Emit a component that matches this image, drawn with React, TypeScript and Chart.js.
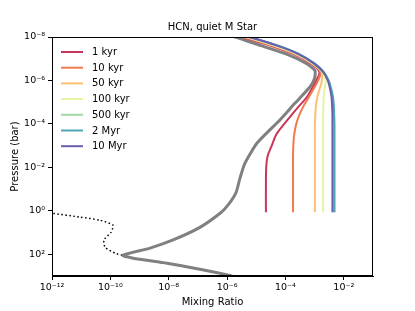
import React, { useEffect, useRef } from 'react';
import { Chart, registerables } from 'chart.js';

Chart.register(...registerables);

const TITLE = 'HCN, quiet M Star';
const X_LABEL = 'Mixing Ratio';
const Y_LABEL = 'Pressure (bar)';

const X_TICKS = [1e-12, 1e-10, 1e-8, 1e-6, 1e-4, 1e-2];
const Y_TICKS = [1e-8, 1e-6, 1e-4, 1e-2, 1e0, 1e2];

const SERIES_LABELS = ['1 kyr', '10 kyr', '50 kyr', '100 kyr', '500 kyr', '2 Myr', '10 Myr'];
const SERIES_COLORS = ['#c9365a', '#f27a4f', '#fdbf72', '#e6f3a0', '#a2d8a5', '#4aa5b6', '#6b5eae'];

// pressure grid (bar) shared by the time-evolving profiles
const PRESSURE_COLORED = [4e-9, 1e-8, 2.5e-8, 6e-8, 1.6e-7, 4e-7, 1e-6, 2.5e-6, 6e-6, 1.6e-5, 4e-5, 1e-4, 3e-4, 1e-3, 3e-3, 1e-2, 1e-1, 1.15];

const MR_1KYR = [3.31e-7, 3.31e-6, 3.02e-5, 1.82e-4, 7.08e-4, 1.45e-3, 1.15e-3, 7.94e-4, 5.37e-4, 2.82e-4, 1.58e-4, 9.12e-5, 4.9e-5, 3.39e-5, 2.45e-5, 2.19e-5, 2.14e-5, 2.14e-5];
const MR_10KYR = [3.63e-7, 3.72e-6, 3.39e-5, 2.0e-4, 7.59e-4, 1.58e-3, 1.32e-3, 9.12e-4, 6.31e-4, 4.07e-4, 2.95e-4, 2.34e-4, 2.0e-4, 1.86e-4, 1.82e-4, 1.82e-4, 1.82e-4, 1.82e-4];
const MR_50KYR = [3.98e-7, 4.17e-6, 3.8e-5, 2.19e-4, 7.94e-4, 1.74e-3, 1.78e-3, 1.48e-3, 1.23e-3, 1.1e-3, 1.05e-3, 1.02e-3, 1.02e-3, 1.02e-3, 1.02e-3, 1.02e-3, 1.02e-3, 1.02e-3];
const MR_100KYR = [4.37e-7, 4.68e-6, 4.27e-5, 2.34e-4, 8.32e-4, 1.82e-3, 2.4e-3, 2.19e-3, 2.04e-3, 2.0e-3, 1.95e-3, 1.95e-3, 1.95e-3, 1.95e-3, 1.95e-3, 1.95e-3, 1.95e-3, 1.95e-3];
const MR_500KYR = [4.79e-7, 5.25e-6, 4.79e-5, 2.51e-4, 8.71e-4, 1.91e-3, 2.88e-3, 3.55e-3, 4.07e-3, 4.37e-3, 4.47e-3, 4.57e-3, 4.57e-3, 4.57e-3, 4.57e-3, 4.57e-3, 4.57e-3, 4.57e-3];
const MR_2MYR = [5.75e-7, 6.31e-6, 5.75e-5, 2.88e-4, 9.77e-4, 2.04e-3, 3.02e-3, 3.72e-3, 4.27e-3, 4.57e-3, 4.68e-3, 4.79e-3, 4.79e-3, 4.79e-3, 4.79e-3, 4.79e-3, 4.79e-3, 4.79e-3];
const MR_10MYR = [5.25e-7, 5.75e-6, 5.25e-5, 2.69e-4, 9.12e-4, 1.95e-3, 2.82e-3, 3.39e-3, 3.8e-3, 3.98e-3, 4.07e-3, 4.07e-3, 4.07e-3, 4.07e-3, 4.07e-3, 4.07e-3, 4.07e-3, 4.07e-3];

const SERIES_VALUES = [MR_1KYR, MR_10KYR, MR_50KYR, MR_100KYR, MR_500KYR, MR_2MYR, MR_10MYR];

// grey reference profile
const PRESSURE_GREY = [4e-9, 1e-8, 2.5e-8, 6.3e-8, 1.6e-7, 3.5e-7, 7.9e-7, 2.0e-6, 1.1e-5, 6.6e-5, 7.6e-4, 6.5e-3, 3.2e-2, 0.14, 0.55, 1.3, 5.8, 22, 52, 112, 151, 257, 490, 933, 1000];
const MR_GREY = [1.6e-7, 1.9e-6, 1.45e-5, 1.15e-4, 5.0e-4, 1.02e-3, 1.0e-3, 6.9e-4, 2.14e-4, 6.46e-5, 1.07e-5, 4.07e-6, 2.75e-6, 2.04e-6, 1.07e-6, 5.75e-7, 1.17e-7, 1.41e-8, 2.29e-9, 2.69e-10, 6.03e-10, 8.71e-9, 1.17e-7, 1.26e-6, 1.48e-6];

// dotted initial profile
const PRESSURE_DOTTED = [1.1, 1.29, 1.95, 2.7, 4.6, 9.8, 22, 48, 89, 112, 151, 257, 490, 933, 1000];
const MR_DOTTED = [3.2e-13, 1e-12, 9.1e-12, 4.4e-11, 1.23e-10, 1.05e-10, 6.0e-11, 6.6e-11, 1.45e-10, 2.69e-10, 6.03e-10, 8.71e-9, 1.17e-7, 1.26e-6, 1.48e-6];

const SUP: Record<string, string> = { '-': '⁻', '0': '⁰', '1': '¹', '2': '²', '3': '³', '4': '⁴', '5': '⁵', '6': '⁶', '7': '⁷', '8': '⁸', '9': '⁹' };
const fmtPow = (v: number) => {
  const e = Math.round(Math.log10(v));
  return '10' + String(e).split('').map((c) => SUP[c] || c).join('');
};

const FONT = "'DejaVu Sans', sans-serif";

const decorPlugin = {
  id: 'decor',
  afterDraw(chart: any) {
    const { ctx, chartArea: a } = chart;
    ctx.save();
    ctx.strokeStyle = '#000';
    ctx.lineWidth = 1;
    ctx.strokeRect(Math.round(a.left) + 0.5, Math.round(a.top) + 0.5, Math.round(a.right - a.left) - 1, Math.round(a.bottom - a.top) - 1);
    ctx.fillStyle = '#000';
    ctx.font = `10px ${FONT}`;
    ctx.textAlign = 'center';
    ctx.textBaseline = 'middle';
    ctx.fillText(TITLE, (a.left + a.right) / 2, 27);
    ctx.fillText(X_LABEL, (a.left + a.right) / 2, 302);
    ctx.save();
    ctx.translate(15, (a.top + a.bottom) / 2);
    ctx.rotate(-Math.PI / 2);
    ctx.fillText(Y_LABEL, 0, 0);
    ctx.restore();
    ctx.textAlign = 'left';
    SERIES_LABELS.forEach((lab, i) => {
      const y = 52 + i * 15.7;
      ctx.strokeStyle = SERIES_COLORS[i];
      ctx.lineWidth = 2;
      ctx.beginPath();
      ctx.moveTo(61, y);
      ctx.lineTo(83, y);
      ctx.stroke();
      ctx.fillStyle = '#000';
      ctx.fillText(lab, 92, y + 0.5);
    });
    ctx.restore();
  },
};

export default function App() {
  const ref = useRef<HTMLCanvasElement>(null);
  useEffect(() => {
    document.body.style.margin = '0';
    const colored = SERIES_LABELS.map((lab, i) => ({
      label: lab,
      data: SERIES_VALUES[i].map((x, j) => ({ x, y: PRESSURE_COLORED[j] })),
      borderColor: SERIES_COLORS[i],
      borderWidth: 2,
      pointRadius: 0,
      tension: 0.3,
      fill: false,
      order: 10 - i,
    }));
    const grey = {
      label: 'grey',
      data: MR_GREY.map((x, j) => ({ x, y: PRESSURE_GREY[j] })),
      borderColor: '#808080',
      borderWidth: 3,
      pointRadius: 0,
      tension: 0.2,
      fill: false,
      order: 20,
    };
    const dotted = {
      label: 'dotted',
      data: MR_DOTTED.map((x, j) => ({ x, y: PRESSURE_DOTTED[j] })),
      borderColor: '#000',
      borderWidth: 1.5,
      borderDash: [1.5, 2.5],
      pointRadius: 0,
      tension: 0.2,
      fill: false,
      order: 30,
    };
    const chart = new Chart(ref.current!, {
      type: 'line',
      data: { datasets: [...colored, grey, dotted] as any },
      options: {
        animation: false,
        responsive: false,
        parsing: false as any,
        normalized: true,
        layout: { padding: { top: 37, right: 42, left: 0, bottom: 0 } },
        plugins: { legend: { display: false }, title: { display: false }, tooltip: { enabled: false } },
        scales: {
          x: {
            type: 'logarithmic',
            min: 1e-12,
            max: 1e-1,
            afterBuildTicks: (s: any) => { s.ticks = X_TICKS.map((v) => ({ value: v })); },
            afterFit: (s: any) => { s.height = 35; },
            ticks: { callback: (v: any) => fmtPow(Number(v)), color: '#000', font: { family: FONT, size: 9.5 }, padding: 2, maxRotation: 0, autoSkip: false },
            grid: { drawOnChartArea: false, drawTicks: true, tickLength: 4, color: '#000' },
            border: { display: true, color: '#000', width: 1 },
          },
          y: {
            type: 'logarithmic',
            reverse: true,
            min: 1e-8,
            max: 1e3,
            afterBuildTicks: (s: any) => { s.ticks = Y_TICKS.map((v) => ({ value: v })); },
            afterFit: (s: any) => { s.width = 52; },
            ticks: { callback: (v: any) => fmtPow(Number(v)), color: '#000', font: { family: FONT, size: 9.5 }, padding: 3, autoSkip: false },
            grid: { drawOnChartArea: false, drawTicks: true, tickLength: 4, color: '#000' },
            border: { display: true, color: '#000', width: 1 },
          },
        },
      } as any,
      plugins: [decorPlugin],
    });
    return () => chart.destroy();
  }, []);
  return (
    <div style={{ width: 415, height: 311 }}>
      <canvas ref={ref} width={415} height={311} style={{ width: 415, height: 311, display: 'block' }} />
    </div>
  );
}
